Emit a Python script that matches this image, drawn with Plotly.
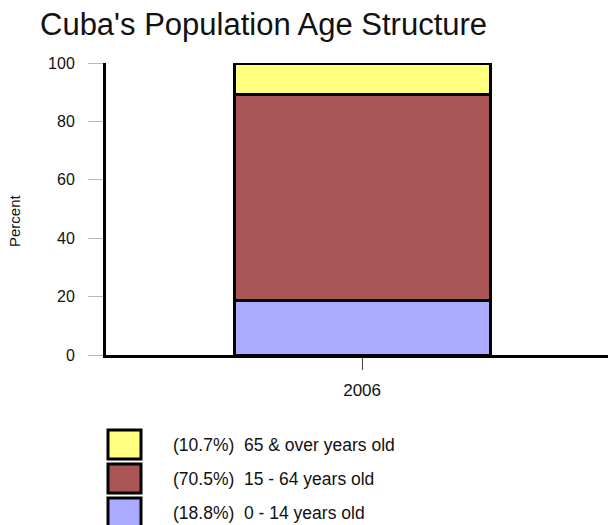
import plotly.graph_objects as go

# Cuba population age structure, 2006 (percent of total)
years = ["2006"]
groups = ["0 - 14 years old", "15 - 64 years old", "65 & over years old"]
shares = [18.8, 70.5, 10.7]
colors = ["#AAAAFF", "#AA5555", "#FFFF80"]
y_ticks = [0, 20, 40, 60, 80, 100]

W, H = 608, 525
ML, MR, MT, MB = 106, 0, 63, 170
PW, PH = W - ML - MR, H - MT - MB


def px_x(x):
    return (x - ML) / PW


def px_y(y):
    return (H - MB - y) / PH


fig = go.Figure()
for name, val, col in zip(groups, shares, colors):
    fig.add_trace(go.Bar(
        x=years, y=[val], name=name, width=0.5,
        marker=dict(color=col, line=dict(color="black", width=3)),
        showlegend=False,
    ))

# Legend drawn as framed swatches with labels, top row = top segment
shapes, annotations = [], []
for i, (name, val, col) in enumerate(reversed(list(zip(groups, shares, colors)))):
    top = 430 + 34 * i
    shapes.append(dict(
        type="rect", xref="paper", yref="paper",
        x0=px_x(108), x1=px_x(141), y0=px_y(top), y1=px_y(top + 29),
        fillcolor=col, line=dict(color="black", width=3),
    ))
    annotations.append(dict(
        xref="paper", yref="paper", x=px_x(171), y=px_y(top + 14.5),
        xanchor="left", yanchor="middle", showarrow=False,
        text=f"({val:.1f}%)  {name}",
        font=dict(size=17.5, color="#111"),
    ))

annotations.append(dict(
    xref="paper", yref="paper", x=px_x(15), y=px_y(221),
    xanchor="center", yanchor="middle", showarrow=False, textangle=-90,
    text="Percent", font=dict(size=15, color="#111"),
))

fig.update_layout(
    width=W, height=H,
    margin=dict(l=ML, r=MR, t=MT, b=MB, pad=0),
    paper_bgcolor="white", plot_bgcolor="white",
    barmode="stack",
    font=dict(family="Liberation Sans, Arial, sans-serif", color="#111"),
    title=dict(
        text="Cuba's Population Age Structure",
        x=40 / W, xref="container", xanchor="left",
        y=1 - 13 / H, yref="container", yanchor="top",
        font=dict(size=31, color="#111"),
    ),
    shapes=shapes,
    annotations=annotations,
    xaxis=dict(
        type="category", range=[-0.5, 0.48],
        showline=True, linecolor="black", linewidth=3,
        ticks="outside", ticklen=12, tickcolor="#444", tickwidth=1,
        tickfont=dict(size=17), showgrid=False, zeroline=False,
        ticklabelstandoff=6,
    ),
    yaxis=dict(
        range=[0, 100], tickvals=y_ticks,
        showline=True, linecolor="black", linewidth=3,
        ticks="outside", ticklen=15, tickcolor="#b8b8b8", tickwidth=1,
        tickfont=dict(size=16), showgrid=False, zeroline=False,
        ticklabelstandoff=10,
    ),
)

fig.write_html("out.html")
